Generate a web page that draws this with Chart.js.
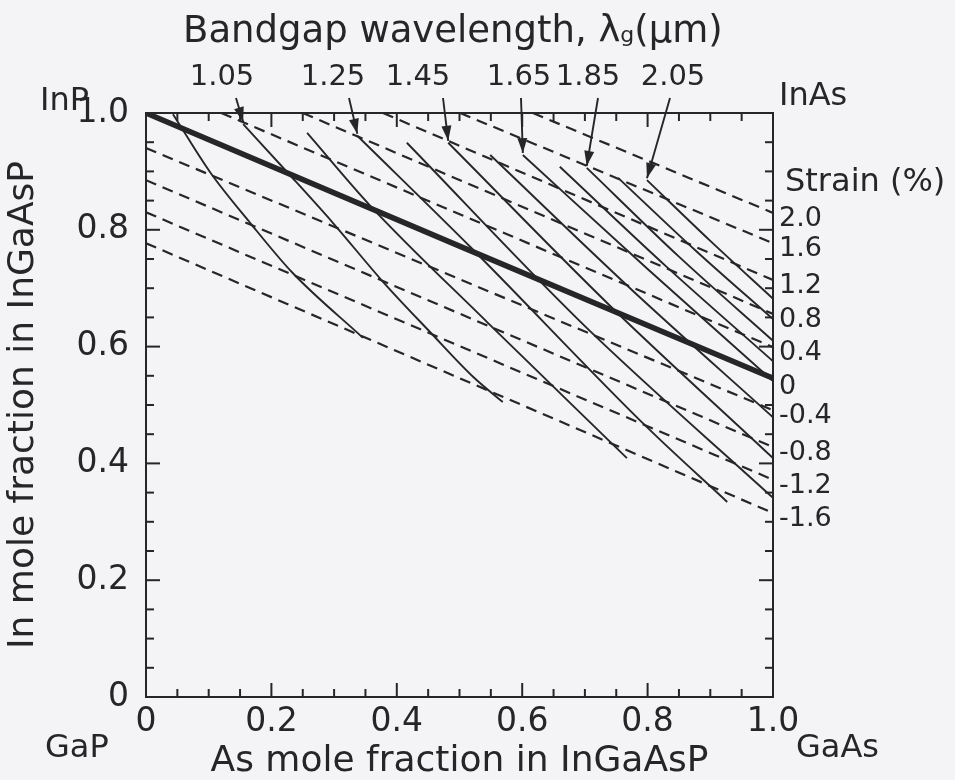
<!DOCTYPE html>
<html>
<head>
<meta charset="utf-8">
<title>InGaAsP bandgap and strain map</title>
<script src="https://cdn.jsdelivr.net/npm/chart.js@4.4.0/dist/chart.umd.min.js"></script>
<style>
  html, body { margin: 0; padding: 0; background: #f4f4f6; }
  #wrap { width: 955px; height: 780px; }
</style>
</head>
<body>
<div id="wrap"><canvas id="chart"></canvas></div>
<script>
// x = As mole fraction, y = In mole fraction

// lattice matched to InP (0 % strain)
const matchedX = [0, 0.5, 1.0];
const matchedY = [1.0, 0.772, 0.546];

// constant strain lines (start / end points)
const strainLabels = ['2.0', '1.6', '1.2', '0.8', '0.4', '-0.4', '-0.8', '-1.2', '-1.6'];
const strainX0 = [0.617, 0.501, 0.378, 0.250, 0.120, 0, 0, 0, 0];
const strainY0 = [1.0, 1.0, 1.0, 1.0, 1.0, 0.940, 0.885, 0.830, 0.777];
const strainX1 = [1, 1, 1, 1, 1, 1, 1, 1, 1];
const strainY1 = [0.829, 0.777, 0.714, 0.656, 0.599, 0.491, 0.428, 0.372, 0.315];

// constant bandgap wavelength lines (um)
const gapWavelengths = ['0.95', '1.05', '1.15', '1.25', '1.35', '1.45', '1.55', '1.65', '1.75', '1.85', '1.95', '2.05'];
const gapX = [
    [0.043, 0.102, 0.166, 0.234, 0.346],
    [0.155, 0.225, 0.298, 0.378, 0.453, 0.522, 0.569],
    [0.257, 0.357, 0.544, 0.767],
    [0.337, 0.517, 0.799, 0.927],
    [0.416, 0.70, 1.0],
    [0.482, 0.74, 1.0],
    [0.549, 0.775, 1.0],
    [0.601, 0.80, 1.0],
    [0.660, 0.83, 1.0],
    [0.703, 0.85, 1.0],
    [0.753, 0.876, 1.0],
    [0.799, 0.90, 1.0]
];
const gapY = [
    [0.998, 0.899, 0.812, 0.726, 0.615],
    [0.981, 0.899, 0.812, 0.711, 0.625, 0.548, 0.505],
    [0.966, 0.842, 0.642, 0.409],
    [0.961, 0.771, 0.462, 0.334],
    [0.949, 0.635, 0.341],
    [0.949, 0.670, 0.409],
    [0.928, 0.697, 0.479],
    [0.928, 0.733, 0.541],
    [0.908, 0.737, 0.575],
    [0.906, 0.754, 0.610],
    [0.889, 0.765, 0.647],
    [0.885, 0.781, 0.682]
];
// which bandgap lines get an arrow + label on top
const arrowLines = ['1.05', '1.25', '1.45', '1.65', '1.85', '2.05'];

const ink = '#262626';
const fontFamily = '"DejaVu Sans", "Liberation Sans", sans-serif';

function pts(xs, ys) {
    return xs.map((x, i) => ({ x: x, y: ys[i] }));
}

const datasets = [];

strainLabels.forEach((lab, i) => {
    datasets.push({
        label: 'strain ' + lab,
        data: pts([strainX0[i], strainX1[i]], [strainY0[i], strainY1[i]]),
        borderColor: ink,
        borderWidth: 2.2,
        borderDash: [11, 7],
        showLine: true,
        pointRadius: 0
    });
});

gapWavelengths.forEach((w, i) => {
    datasets.push({
        label: 'lambda ' + w,
        data: pts(gapX[i], gapY[i]),
        borderColor: ink,
        borderWidth: 1.9,
        showLine: true,
        cubicInterpolationMode: 'monotone',
        pointRadius: 0
    });
});

datasets.push({
    label: 'lattice matched',
    data: pts(matchedX, matchedY),
    borderColor: ink,
    borderWidth: 5.5,
    showLine: true,
    pointRadius: 0
});

function strokeLine(ctx, x1, y1, x2, y2) {
    ctx.beginPath();
    ctx.moveTo(x1, y1);
    ctx.lineTo(x2, y2);
    ctx.stroke();
}

// box + inward ticks on all four sides
const frameTicks = {
    id: 'frameTicks',
    afterDatasetsDraw(chart) {
        const { ctx, chartArea: a, scales: { x, y } } = chart;
        ctx.save();
        ctx.strokeStyle = ink;
        ctx.lineWidth = 2;
        ctx.strokeRect(a.left, a.top, a.right - a.left, a.bottom - a.top);
        for (let i = 0; i <= 20; i++) {
            const v = i * 0.05;
            const len = i % 4 === 0 ? 14 : 8;
            const px = x.getPixelForValue(v);
            const py = y.getPixelForValue(v);
            strokeLine(ctx, px, a.bottom, px, a.bottom - len);
            strokeLine(ctx, px, a.top, px, a.top + len);
            strokeLine(ctx, a.left, py, a.left + len, py);
            strokeLine(ctx, a.right, py, a.right - len, py);
        }
        ctx.restore();
    }
};

// titles, end-member names, strain labels, wavelength arrows
const annotations = {
    id: 'annotations',
    afterDraw(chart) {
        const { ctx, chartArea: a, scales: { x, y } } = chart;
        ctx.save();
        ctx.fillStyle = ink;
        ctx.strokeStyle = ink;
        ctx.textBaseline = 'alphabetic';
        ctx.textAlign = 'left';

        // top title with subscript g
        let tx = 183;
        ctx.font = '37px ' + fontFamily;
        const part1 = 'Bandgap wavelength, \u03bb';
        ctx.fillText(part1, tx, 42);
        tx += ctx.measureText(part1).width;
        ctx.font = '22px ' + fontFamily;
        ctx.fillText('g', tx, 42);
        tx += ctx.measureText('g').width;
        ctx.font = '37px ' + fontFamily;
        ctx.fillText('(\u03bcm)', tx, 42);

        // end members
        ctx.font = '32px ' + fontFamily;
        ctx.fillText('InP', 40, 110);
        ctx.fillText('InAs', 779, 105);
        ctx.fillText('GaP', 45, 757);
        ctx.fillText('GaAs', 796, 757);
        ctx.font = '32px ' + fontFamily;
        ctx.fillText('Strain (%)', 785, 191);

        // strain values at the right-hand ends of the lines
        ctx.font = '27px ' + fontFamily;
        ctx.textBaseline = 'middle';
        strainLabels.forEach((lab, i) => {
            ctx.fillText(lab, a.right + 6, y.getPixelForValue(strainY1[i]) + 6);
        });
        ctx.fillText('0', a.right + 6, y.getPixelForValue(matchedY[matchedY.length - 1]) + 9);

        // wavelength labels with arrows to the tops of their lines
        const labelX = [222, 333, 418, 519, 588, 673];
        const tailX = [236, 349, 443, 521, 598, 670];
        ctx.font = '29px ' + fontFamily;
        ctx.textAlign = 'center';
        ctx.textBaseline = 'alphabetic';
        arrowLines.forEach((w, k) => {
            const i = gapWavelengths.indexOf(w);
            ctx.fillText(w, labelX[k], 85);
            const tipX = x.getPixelForValue(gapX[i][0]);
            const tipY = y.getPixelForValue(gapY[i][0]) - 2;
            const t0x = tailX[k], t0y = 98;
            ctx.lineWidth = 1.9;
            strokeLine(ctx, t0x, t0y, tipX, tipY);
            const ang = Math.atan2(tipY - t0y, tipX - t0x);
            const hl = 15, hw = 5;
            ctx.beginPath();
            ctx.moveTo(tipX, tipY);
            ctx.lineTo(tipX - hl * Math.cos(ang) + hw * Math.sin(ang), tipY - hl * Math.sin(ang) - hw * Math.cos(ang));
            ctx.lineTo(tipX - hl * Math.cos(ang) - hw * Math.sin(ang), tipY - hl * Math.sin(ang) + hw * Math.cos(ang));
            ctx.closePath();
            ctx.fill();
        });
        ctx.restore();
    }
};

function tickLabel(v) {
    return v === 0 ? '0' : v.toFixed(1);
}

new Chart(document.getElementById('chart'), {
    type: 'scatter',
    data: { datasets: datasets },
    options: {
        responsive: true,
        maintainAspectRatio: false,
        animation: false,
        devicePixelRatio: 1,
        layout: { padding: { top: 113, right: 182, left: 0, bottom: 0 } },
        plugins: {
            legend: { display: false },
            tooltip: { enabled: false }
        },
        scales: {
            x: {
                type: 'linear',
                min: 0,
                max: 1,
                grid: { display: false },
                border: { display: false },
                ticks: {
                    stepSize: 0.2,
                    color: ink,
                    padding: -2,
                    maxRotation: 0,
                    font: { family: fontFamily, size: 33 },
                    callback: tickLabel
                },
                title: {
                    display: true,
                    text: 'As mole fraction in InGaAsP',
                    color: ink,
                    padding: { top: 0, bottom: 0 },
                    font: { family: fontFamily, size: 36, lineHeight: 1.0 }
                },
                afterFit: s => { s.height = 83; }
            },
            y: {
                type: 'linear',
                min: 0,
                max: 1,
                grid: { display: false },
                border: { display: false },
                ticks: {
                    stepSize: 0.2,
                    color: ink,
                    padding: 9,
                    font: { family: fontFamily, size: 33 },
                    callback: tickLabel
                },
                title: {
                    display: true,
                    text: 'In mole fraction in InGaAsP',
                    color: ink,
                    padding: { top: 4, bottom: 0 },
                    font: { family: fontFamily, size: 36, lineHeight: 1.1 }
                },
                afterFit: s => { s.width = 146; }
            }
        }
    },
    plugins: [frameTicks, annotations]
});
</script>
</body>
</html>
